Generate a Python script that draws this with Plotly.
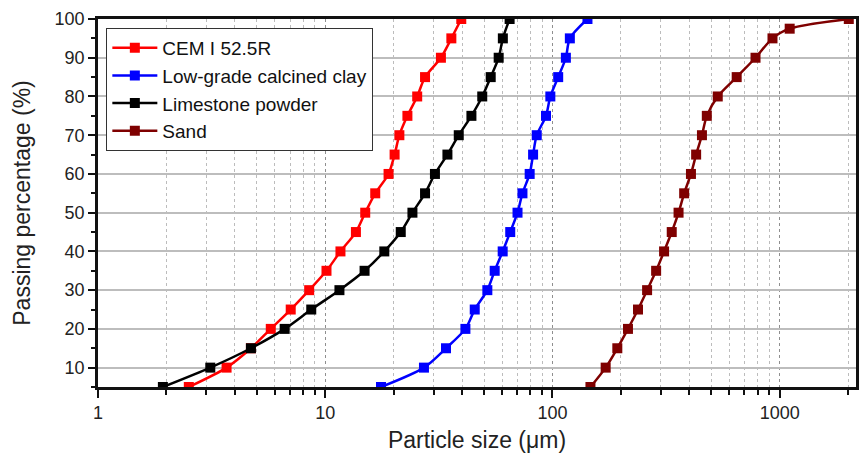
import plotly.graph_objects as go

pct = [5, 10, 15, 20, 25, 30, 35, 40, 45, 50, 55, 60, 65, 70, 75, 80, 85, 90, 95, 100]
pct_sand = [5, 10, 15, 20, 25, 30, 35, 40, 45, 50, 55, 60, 65, 70, 75, 80, 85, 90, 95, 97.5, 100]

cem = [2.51, 3.68, 4.71, 5.76, 7.05, 8.50, 10.13, 11.67, 13.65, 15.0, 16.6, 19.0,
       20.2, 21.2, 23.0, 25.4, 27.5, 32.3, 35.9, 39.7]
clay = [17.6, 27.2, 34.0, 41.4, 45.5, 51.7, 55.7, 60.4, 65.2, 70.2, 73.8, 79.4,
        82.2, 85.3, 93.7, 97.9, 106, 114.6, 119.3, 142.6]
lime = [1.93, 3.12, 4.71, 6.63, 8.68, 11.55, 14.9, 18.2, 21.5, 24.2, 27.5, 30.4,
        34.5, 38.7, 44.0, 49.1, 53.5, 58.0, 60.5, 64.8]
sand = [147, 171.5, 193, 215, 238, 261, 286, 310, 335, 359, 380, 407, 429, 455,
        478, 534, 647, 783, 930, 1107, 2015]

names = ["CEM I 52.5R", "Low-grade calcined clay", "Limestone powder", "Sand"]
colors = ["#ff0000", "#0000ff", "#000000", "#7f0000"]
xtick_vals = [1, 10, 100, 1000]
ytick_vals = [10, 20, 30, 40, 50, 60, 70, 80, 90, 100]

FONT = "Arial, 'Liberation Sans', sans-serif"

fig = go.Figure()
for xs, ys, name, col in [(cem, pct, names[0], colors[0]),
                          (clay, pct, names[1], colors[1]),
                          (lime, pct, names[2], colors[2]),
                          (sand, pct_sand, names[3], colors[3])]:
    fig.add_trace(go.Scatter(
        x=xs, y=ys, name=name, mode="lines+markers",
        line=dict(color=col, width=2.5, shape="spline", smoothing=0.8),
        marker=dict(symbol="square", size=10, color=col),
    ))

minor_vals = []
for d in [1, 10, 100, 1000]:
    for m in range(2, 10):
        minor_vals.append(d * m)

fig.update_layout(
    width=860, height=453,
    margin=dict(l=98, r=1, t=19, b=66),
    paper_bgcolor="white", plot_bgcolor="white",
    font=dict(family=FONT, color="#222222"),
    showlegend=True,
    legend=dict(
        x=0.011, y=0.976, xanchor="left", yanchor="top",
        bgcolor="white", bordercolor="#333333", borderwidth=1,
        font=dict(size=19, family=FONT, color="#111111"),
        tracegroupgap=0, itemwidth=45,
    ),
    xaxis=dict(
        type="log", range=[0, 3.336],
        tickvals=xtick_vals, ticktext=[str(v) for v in xtick_vals],
        tickfont=dict(size=18, family=FONT, color="#222222"),
        ticks="outside", ticklen=8, tickwidth=2, tickcolor="#111111",
        showline=True, linecolor="#111111", linewidth=2.5, mirror=True,
        showgrid=True, gridcolor="#8f8f8f", griddash="dot", gridwidth=1,
        zeroline=False,
        minor=dict(tickvals=minor_vals, ticks="outside", ticklen=5,
                   tickwidth=1.5, tickcolor="#111111",
                   showgrid=True, gridcolor="#bcbcbc", griddash="dot", gridwidth=1),
        title=dict(text="Particle size (\u03bcm)", font=dict(size=23, family=FONT, color="#222222"),
                   standoff=11),
    ),
    yaxis=dict(
        range=[5, 100],
        tickvals=ytick_vals,
        tickfont=dict(size=18, family=FONT, color="#222222"),
        ticks="outside", ticklen=7, tickwidth=2, tickcolor="#111111",
        showline=True, linecolor="#111111", linewidth=2.5, mirror=True,
        showgrid=True, gridcolor="#bdbdbd", gridwidth=1.5,
        zeroline=False,
        minor=dict(dtick=5, ticks="outside", ticklen=4, tickwidth=1.5,
                   tickcolor="#111111", showgrid=False),
        title=dict(text="Passing percentage (%)", font=dict(size=23, family=FONT, color="#222222"),
                   standoff=18),
    ),
)

fig.write_html("out.html")
